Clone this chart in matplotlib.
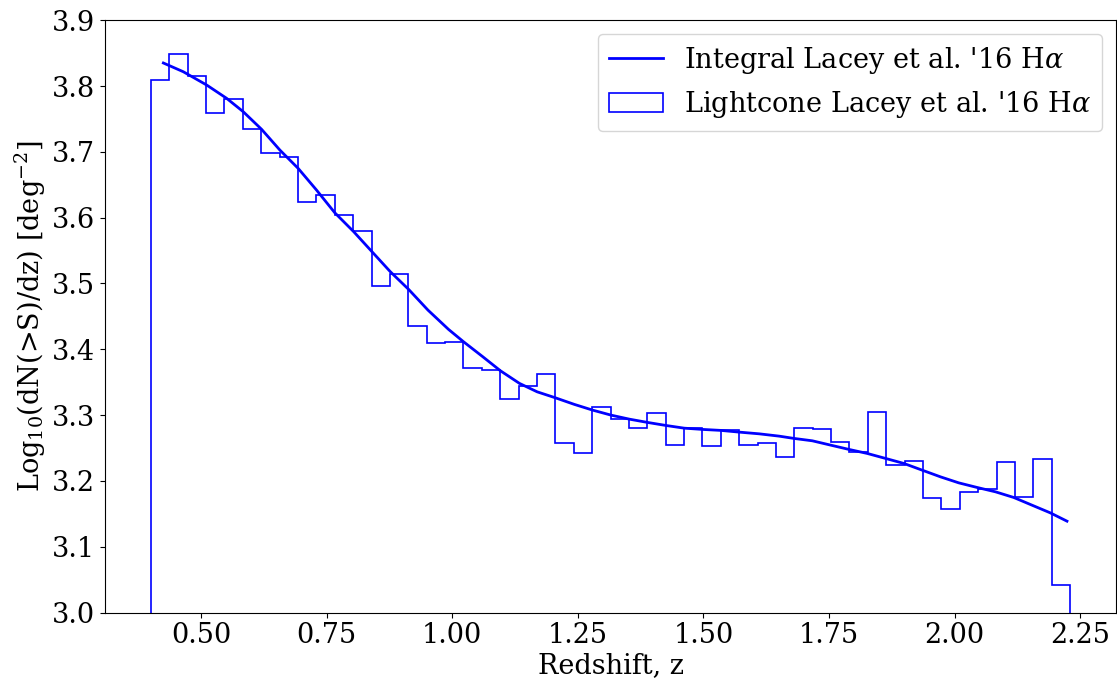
import numpy as np
import matplotlib
matplotlib.use("Agg")
import matplotlib.pyplot as plt

plt.rcParams['font.family'] = ['DejaVu Serif']
plt.rcParams['mathtext.fontset'] = 'dejavuserif'

# Histogram (lightcone) data
z_min, z_max, n_bins = 0.40, 2.23, 50
hist_values = [
    3.809, 3.849, 3.815, 3.759, 3.780, 3.734, 3.699, 3.692, 3.624, 3.635,
    3.604, 3.580, 3.496, 3.515, 3.435, 3.409, 3.411, 3.372, 3.368, 3.325,
    3.345, 3.363, 3.257, 3.243, 3.313, 3.294, 3.281, 3.303, 3.255, 3.281,
    3.253, 3.277, 3.255, 3.257, 3.237, 3.281, 3.279, 3.259, 3.244, 3.305,
    3.224, 3.230, 3.174, 3.157, 3.183, 3.188, 3.229, 3.176, 3.233, 3.042,
]

# Integral curve data
line_z = [0.4247, 0.4644, 0.511, 0.5507, 0.5837, 0.6203, 0.6567, 0.6931,
          0.7296, 0.766, 0.8038, 0.8402, 0.8767, 0.9131, 0.9515, 0.9926,
          1.0225, 1.0609, 1.096, 1.1338, 1.169, 1.2054, 1.2431, 1.2795,
          1.3161, 1.3525, 1.3889, 1.4254, 1.4618, 1.4982, 1.5348, 1.5712,
          1.611, 1.6507, 1.6805, 1.7169, 1.7535, 1.7899, 1.8262, 1.8628,
          1.8992, 1.9356, 1.9722, 2.0085, 2.045, 2.0815, 2.1179, 2.1543,
          2.1908, 2.2239]
line_v = [3.835, 3.8217, 3.8015, 3.7813, 3.761, 3.7342, 3.7027, 3.6749,
          3.642, 3.6075, 3.5786, 3.5482, 3.5178, 3.491, 3.4596, 3.4302,
          3.4114, 3.3886, 3.3673, 3.3482, 3.3354, 3.3263, 3.3163, 3.3076,
          3.300, 3.2939, 3.2889, 3.2843, 3.2802, 3.2783, 3.2768, 3.2742,
          3.2716, 3.2681, 3.2646, 3.2610, 3.2544, 3.2479, 3.2418, 3.2342,
          3.2266, 3.2164, 3.2062, 3.1971, 3.1901, 3.1835, 3.1749, 3.1632,
          3.1515, 3.1389]

edges = np.linspace(z_min, z_max, n_bins + 1)
centers = 0.5 * (edges[:-1] + edges[1:])

FS = 19.5

fig = plt.figure(figsize=(11.17, 6.82), dpi=100)
ax = fig.add_axes([105/1117, 1 - 612.6/682, (1116 - 105)/1117, (612.6 - 20.2)/682])

ax.plot(line_z, line_v, color='blue', lw=2, label="Integral Lacey et al. '16 H$\\alpha$")
ax.hist(centers, bins=edges, weights=hist_values, histtype='step', color='blue', lw=1.2,
        label="Lightcone Lacey et al. '16 H$\\alpha$")

ax.set_ylim(3.0, 3.9)
ax.set_xlim(z_min - 0.05 * (z_max - z_min), z_max + 0.05 * (z_max - z_min))
ax.set_xticks([0.50, 0.75, 1.00, 1.25, 1.50, 1.75, 2.00, 2.25])
ax.set_yticks([3.0, 3.1, 3.2, 3.3, 3.4, 3.5, 3.6, 3.7, 3.8, 3.9])
ax.tick_params(labelsize=FS)
ax.set_xlabel('Redshift, z', fontsize=FS, labelpad=2)
ax.set_ylabel('Log$_{10}$(dN(>S)/dz) [deg$^{-2}$]', fontsize=FS, labelpad=3)
ax.legend(loc='upper right', fontsize=FS)

fig.savefig('out.png', dpi=100)
